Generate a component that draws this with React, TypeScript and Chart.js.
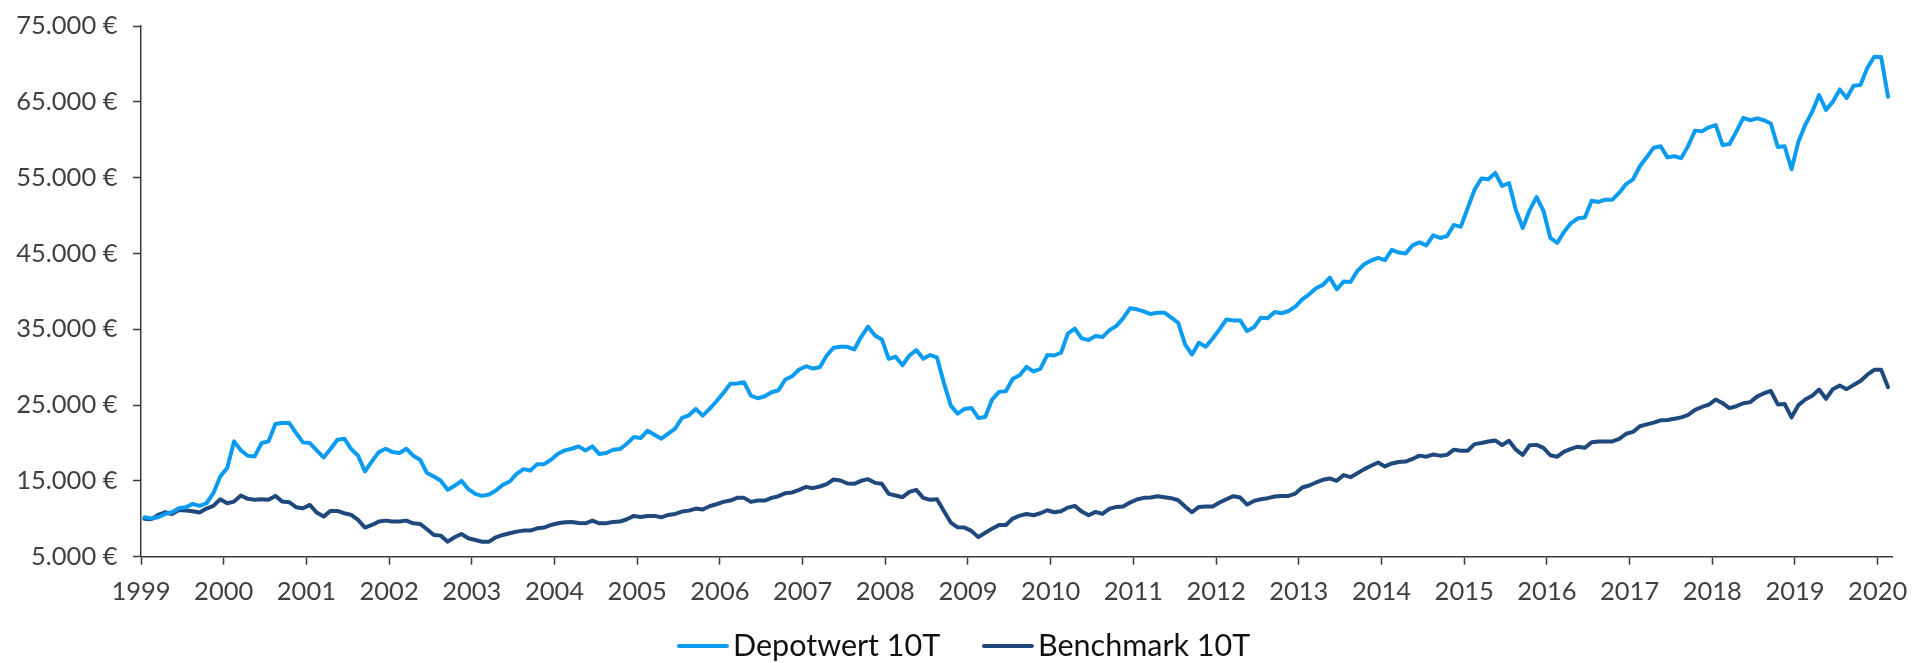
import React, { useEffect, useRef } from 'react';
import { Chart, registerables } from 'chart.js';

Chart.register(...registerables);

// Monthly values, January 1999 .. February 2020
const START_YEAR = 1999;

const depotValues: number[] = [
  10200, 10050, 10200, 10640, 10860, 11390, 11520, 11970, 11700, 12050, 13380, 15580,
  16680, 20210, 19020, 18320, 18230, 19990, 20210, 22500, 22640, 22640, 21310, 20080,
  19990, 19020, 18090, 19200, 20430, 20560, 19200, 18320, 16250, 17570, 18800, 19240,
  18800, 18670, 19240, 18320, 17790, 16030, 15580, 15010, 13820, 14350, 15010, 13910,
  13290, 13020, 13200, 13730, 14480, 14920, 15930, 16550, 16380, 17210, 17210, 17790,
  18580, 19020, 19240, 19550, 19020, 19550, 18540, 18670, 19110, 19200, 19900, 20780,
  20650, 21620, 21090, 20560, 21220, 21890, 23300, 23650, 24490, 23610, 24490, 25500,
  26600, 27800, 27840, 28010, 26250, 25900, 26160, 26690, 26960, 28370, 28810, 29690,
  30130, 29820, 30000, 31540, 32560, 32690, 32690, 32340, 34010, 35330, 34190, 33660,
  31100, 31370, 30260, 31540, 32250, 31100, 31590, 31280, 27930, 24930, 23870, 24490,
  24620, 23300, 23430, 25720, 26740, 26820, 28460, 28940, 30040, 29430, 29780, 31590,
  31540, 31900, 34450, 35070, 33790, 33570, 34100, 33970, 34850, 35420, 36440, 37760,
  37630, 37360, 37010, 37190, 37190, 36530, 35860, 33000, 31670, 33220, 32690, 33790,
  34980, 36300, 36170, 36170, 34760, 35250, 36530, 36440, 37270, 37100, 37410, 37980,
  38950, 39610, 40400, 40850, 41820, 40270, 41290, 41240, 42700, 43580, 44060, 44420,
  44110, 45480, 45120, 44990, 46060, 46450, 46060, 47380, 47040, 47290, 48760, 48510,
  50960, 53410, 54880, 54780, 55620, 53900, 54290, 50720, 48360, 50720, 52430, 50620,
  47040, 46400, 47870, 49000, 49640, 49740, 51940, 51790, 52090, 52090, 53020, 54150,
  54780, 56500, 57720, 58950, 59140, 57670, 57820, 57570, 59190, 61200, 61100, 61640,
  61930, 59290, 59440, 61100, 62870, 62570, 62820, 62570, 62130, 59040, 59140, 56100,
  59780, 61980, 63700, 65900, 63940, 65020, 66640, 65510, 67130, 67230, 69480, 70950,
  70900, 65660,
];

const benchValues: number[] = [
  10000, 9950, 10510, 10860, 10640, 11170, 11080, 11000, 10820, 11350, 11700, 12580,
  12050, 12270, 13070, 12630, 12500, 12580, 12500, 13020, 12270, 12190, 11530, 11390,
  11830, 10820, 10290, 11040, 11040, 10730, 10510, 9850, 8840, 9190, 9630, 9760,
  9630, 9630, 9760, 9410, 9320, 8620, 7870, 7780, 6980, 7560, 8000, 7430,
  7200, 6980, 6980, 7560, 7870, 8090, 8310, 8440, 8440, 8750, 8840, 9190,
  9410, 9540, 9590, 9450, 9410, 9760, 9410, 9410, 9590, 9630, 9940, 10380,
  10250, 10380, 10380, 10200, 10510, 10640, 10950, 11080, 11350, 11220, 11660, 11920,
  12230, 12410, 12760, 12760, 12230, 12410, 12410, 12760, 12980, 13380, 13470, 13820,
  14210, 14040, 14260, 14570, 15180, 15050, 14660, 14610, 15010, 15230, 14740, 14610,
  13290, 13070, 12850, 13550, 13820, 12760, 12500, 12580, 11040, 9500, 8880, 8840,
  8400, 7580, 8150, 8700, 9190, 9190, 10030, 10420, 10640, 10470, 10730, 11130,
  10860, 11000, 11480, 11700, 10950, 10470, 10910, 10640, 11310, 11570, 11610, 12140,
  12540, 12760, 12800, 12980, 12850, 12720, 12450, 11610, 10860, 11570, 11610, 11610,
  12140, 12580, 12980, 12800, 11880, 12360, 12580, 12720, 12940, 13020, 13020, 13330,
  14130, 14390, 14790, 15140, 15320, 15010, 15760, 15490, 16020, 16550, 16990, 17430,
  16910, 17300, 17500, 17550, 17890, 18330, 18190, 18480, 18330, 18430, 19120, 18970,
  18970, 19850, 20000, 20200, 20340, 19710, 20290, 19120, 18430, 19710, 19750, 19360,
  18380, 18190, 18870, 19220, 19510, 19360, 20100, 20200, 20200, 20200, 20540, 21220,
  21470, 22200, 22450, 22690, 22990, 23040, 23190, 23380, 23720, 24360, 24750, 25050,
  25730, 25240, 24600, 24850, 25240, 25390, 26120, 26560, 26860, 25090, 25140, 23380,
  25000, 25730, 26220, 27050, 25830, 27100, 27590, 27100, 27640, 28180, 29010, 29650,
  29650, 27350,
];

const seriesLabels = ['Depotwert 10T', 'Benchmark 10T'];
const seriesColors = ['#0b9cf2', '#1f497d'];

const Y_MIN = 5000;
const Y_MAX = 75000;
const Y_STEP = 10000;
const X_MIN = 1999;
const X_MAX = 2020.173;
const X_STEP = 1;

// month positions (mid-month, in fractional years)
const monthX = depotValues.map((_, i) => START_YEAR + (i + 0.5) / 12);

const fmtEuro = (v: number) =>
  String(Math.round(v)).replace(/\B(?=(\d{3})+(?!\d))/g, '.') + ' €';

const AXIS_COLOR = '#3a3a3a';
const TICK_TEXT = '#404040';
const TICK_FONT_SIZE = 25.5;
const LEGEND_FONT_SIZE = 30.5;
const LEGEND_PADDING = 52.5;
const LINE_WIDTH = 4;

// small line glyph used as the legend marker
const makeLegendLine = (color: string) => {
  const cv = document.createElement('canvas');
  cv.width = 52;
  cv.height = 6;
  const g = cv.getContext('2d');
  if (g) {
    g.strokeStyle = color;
    g.lineWidth = LINE_WIDTH;
    g.lineCap = 'round';
    g.beginPath();
    g.moveTo(2, 3);
    g.lineTo(50, 3);
    g.stroke();
  }
  return cv;
};

export default function App() {
  const ref = useRef<HTMLCanvasElement>(null);

  useEffect(() => {
    const canvas = ref.current;
    if (!canvas) return;
    Chart.defaults.font.family = 'Lato';

    const LEGEND_DX = 23;
    const LEGEND_DY = 8.25;
    const layoutTweak = {
      id: 'layoutTweak',
      afterLayout(chart: any) {
        const l = chart.legend;
        if (l) {
          l.left += LEGEND_DX;
          l.right += LEGEND_DX;
          l.top += LEGEND_DY;
          l.bottom += LEGEND_DY;
        }
        const xs = chart.scales.x;
        // let the year labels extend below the thin axis box
        if (xs) xs.bottom = chart.height;
      },
    };

    const mk = (vals: number[], idx: number) => ({
      label: seriesLabels[idx],
      data: vals.map((v, i) => ({ x: monthX[i], y: v })),
      borderColor: seriesColors[idx],
      backgroundColor: seriesColors[idx],
      borderWidth: LINE_WIDTH,
      pointRadius: 0,
      pointHoverRadius: 0,
      pointStyle: makeLegendLine(seriesColors[idx]),
      tension: 0,
      fill: false,
      borderJoinStyle: 'round' as const,
      borderCapStyle: 'round' as const,
    });

    const chart = new Chart(canvas, {
      type: 'line',
      data: { datasets: [mk(depotValues, 0), mk(benchValues, 1)] },
      options: {
        animation: false,
        responsive: false,
        devicePixelRatio: 1,
        layout: { padding: { top: 26, right: 25, left: 0, bottom: 0 } },
        plugins: {
          legend: {
            position: 'bottom',
            labels: {
              usePointStyle: true,
              pointStyleWidth: 30,
              padding: LEGEND_PADDING,
              color: '#111111',
              font: { size: LEGEND_FONT_SIZE, family: 'Lato' },
            },
          },
          tooltip: { enabled: false },
        },
        scales: {
          x: {
            type: 'linear',
            min: X_MIN,
            max: X_MAX,
            afterFit: (s: any) => {
              s.height = 663 - 556.7 - (LEGEND_FONT_SIZE + LEGEND_PADDING + 10);
              s.paddingLeft = 0;
              s.paddingRight = 0;
            },
            ticks: {
              stepSize: X_STEP,
              includeBounds: false,
              autoSkip: false,
              maxRotation: 0,
              padding: 11.3,
              color: TICK_TEXT,
              font: { size: TICK_FONT_SIZE, family: 'Lato' },
              callback: (v: any) => String(Math.round(Number(v))),
            },
            grid: { drawOnChartArea: false, drawTicks: true, tickLength: 8, tickColor: AXIS_COLOR, tickWidth: 1.5 },
            border: { display: true, color: AXIS_COLOR, width: 1.5 },
          },
          y: {
            type: 'linear',
            min: Y_MIN,
            max: Y_MAX,
            afterFit: (s: any) => {
              s.width = 141;
              s.paddingTop = 0;
              s.paddingBottom = 0;
            },
            ticks: {
              stepSize: Y_STEP,
              padding: 15.5,
              color: TICK_TEXT,
              font: { size: TICK_FONT_SIZE, family: 'Lato' },
              callback: (v: any) => fmtEuro(Number(v)),
            },
            grid: { drawOnChartArea: false, drawTicks: true, tickLength: 8, tickColor: AXIS_COLOR, tickWidth: 1.5 },
            border: { display: true, color: AXIS_COLOR, width: 1.5 },
          },
        },
      },
      plugins: [layoutTweak],
    });

    return () => chart.destroy();
  }, []);

  return (
    <div style={{ position: 'absolute', left: 0, top: 0, width: 1917, height: 663 }}>
      <canvas ref={ref} width={1917} height={663} style={{ display: 'block' }} />
    </div>
  );
}
